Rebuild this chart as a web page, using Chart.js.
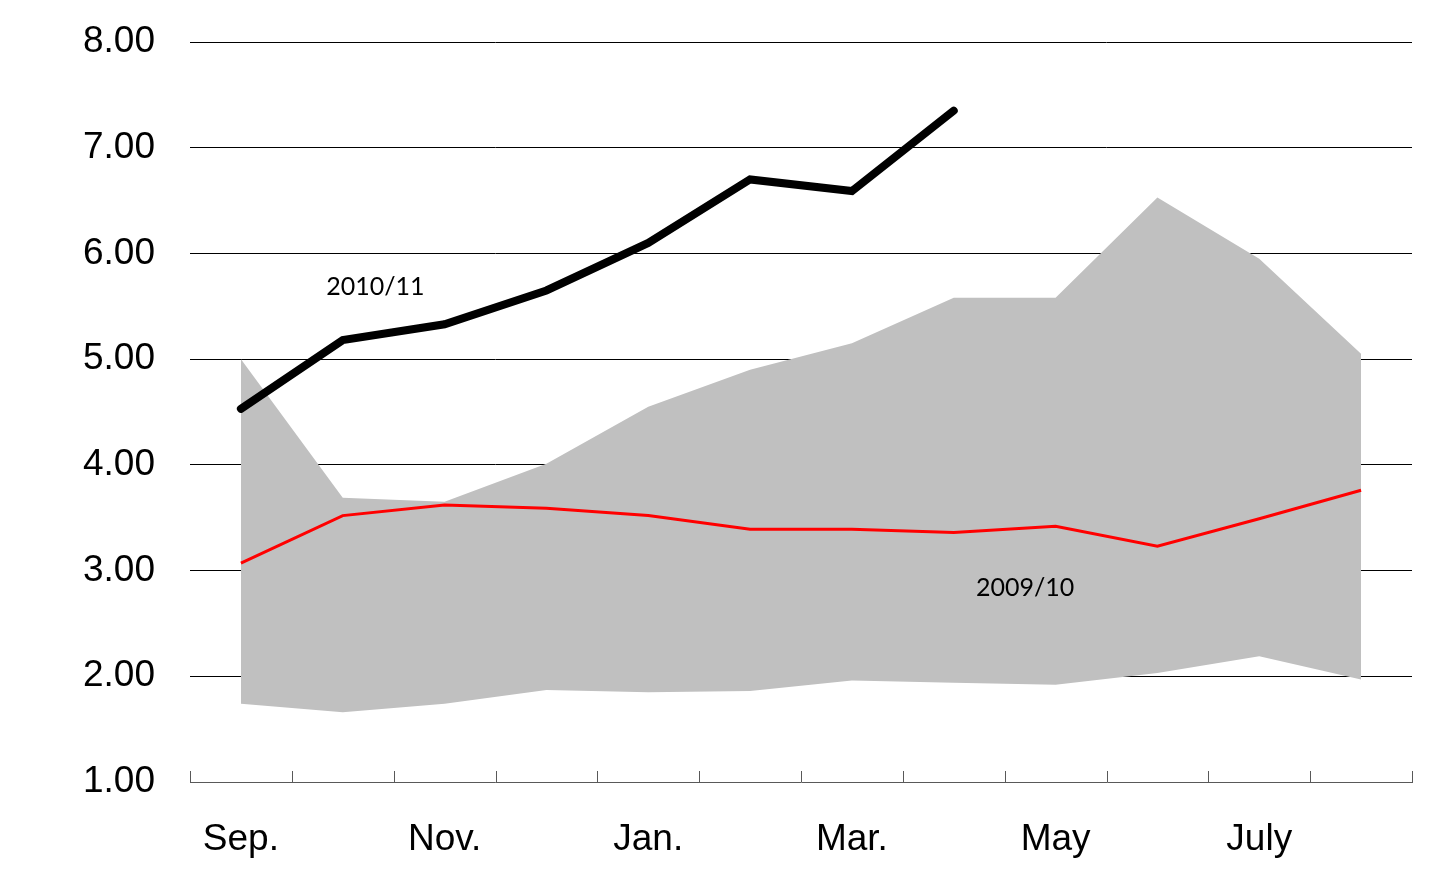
<!DOCTYPE html>
<html>
<head>
<meta charset="utf-8">
<script src="https://cdn.jsdelivr.net/npm/chart.js@4"></script>
<style>
  html, body { margin: 0; padding: 0; background: #fff; }
  #wrap { width: 1430px; height: 892px; }
</style>
</head>
<body>
<div id="wrap"><canvas id="chart"></canvas></div>
<script>
// months of the season, Sep to Aug
const months = ['Sep.', 'Oct.', 'Nov.', 'Dec.', 'Jan.', 'Feb.', 'Mar.', 'Apr.', 'May', 'June', 'July', 'Aug.'];
const rangeHigh = [5.00, 3.69, 3.65, 4.01, 4.55, 4.90, 5.15, 5.58, 5.58, 6.53, 5.95, 5.05];
const rangeLow = [1.74, 1.66, 1.74, 1.87, 1.85, 1.86, 1.96, 1.94, 1.92, 2.03, 2.19, 1.97];
const season0910 = [3.07, 3.52, 3.62, 3.59, 3.52, 3.39, 3.39, 3.36, 3.42, 3.23, 3.49, 3.76];
const season1011 = [4.53, 5.18, 5.33, 5.65, 6.10, 6.70, 6.59, 7.35];
const yTicks = [1, 2, 3, 4, 5, 6, 7, 8];

// text labels placed next to the lines
const seriesLabels = [
    { text: '2010/11', x: 1.32, y: 5.68 },
    { text: '2009/10', x: 7.7, y: 2.84 }
];

// tick marks between months, pointing up from the x axis + line labels
const tickMarks = {
    id: 'tickMarks',
    afterDatasetsDraw(chart) {
        const ctx = chart.ctx;
        const xs = chart.scales.x;
        const step = (xs.right - xs.left) / months.length;
        ctx.save();
        ctx.strokeStyle = '#595959';
        ctx.lineWidth = 1;
        ctx.beginPath();
        for (let i = 0; i <= months.length; i++) {
            const px = Math.round(xs.left + i * step) + 0.5;
            ctx.moveTo(px, xs.top - 11);
            ctx.lineTo(px, xs.top);
        }
        ctx.stroke();

        ctx.fillStyle = '#000';
        ctx.font = '25px Lato';
        ctx.textAlign = 'center';
        ctx.textBaseline = 'middle';
        seriesLabels.forEach(function(l) {
            ctx.fillText(l.text, xs.getPixelForValue(l.x), chart.scales.y.getPixelForValue(l.y));
        });
        ctx.restore();
    }
};

const ctx = document.getElementById('chart').getContext('2d');
const chart = new Chart(ctx, {
    type: 'line',
    data: {
        labels: months,
        datasets: [
            {
                label: '2010/11',
                data: season1011,
                borderColor: '#000',
                borderWidth: 8,
                borderCapStyle: 'round',
                pointRadius: 0,
                fill: false,
                order: 0
            },
            {
                label: '2009/10',
                data: season0910,
                borderColor: '#ff0000',
                borderWidth: 3,
                pointRadius: 0,
                fill: false,
                order: 1
            },
            {
                label: 'high',
                data: rangeHigh,
                borderWidth: 0,
                borderColor: 'rgba(0,0,0,0)',
                backgroundColor: '#c0c0c0',
                pointRadius: 0,
                fill: '+1',
                order: 2
            },
            {
                label: 'low',
                data: rangeLow,
                borderWidth: 0,
                borderColor: 'rgba(0,0,0,0)',
                pointRadius: 0,
                fill: false,
                order: 3
            }
        ]
    },
    options: {
        responsive: true,
        maintainAspectRatio: false,
        animation: false,
        layout: { padding: { top: 42, right: 18, left: 0, bottom: 0 } },
        elements: { line: { tension: 0 } },
        plugins: {
            legend: { display: false },
            tooltip: { enabled: false }
        },
        scales: {
            x: {
                offset: true,
                afterFit: function(axis) { axis.height = 110; },
                grid: { display: false },
                border: { display: true, color: '#595959', width: 1 },
                ticks: {
                    autoSkip: false,
                    maxRotation: 0,
                    padding: 28,
                    color: '#000',
                    font: { family: 'Liberation Sans', size: 37 },
                    callback: function(v, i) { return i % 2 === 0 ? months[i] : ''; }
                }
            },
            y: {
                min: 1,
                max: 8,
                afterFit: function(axis) {
                    axis.width = 190;
                    axis.paddingTop = 0;
                    axis.paddingBottom = 0;
                },
                afterBuildTicks: function(axis) {
                    axis.ticks = yTicks.map(function(v) { return { value: v }; });
                },
                border: { display: false },
                grid: {
                    color: function(c) { return c.tick && c.tick.value === 1 ? 'rgba(0,0,0,0)' : '#000'; },
                    lineWidth: 1,
                    drawTicks: false
                },
                ticks: {
                    padding: 35,
                    color: '#000',
                    font: { family: 'Liberation Sans', size: 37 },
                    callback: function(v) { return v.toFixed(2); }
                }
            }
        }
    },
    plugins: [tickMarks]
});
</script>
</body>
</html>
